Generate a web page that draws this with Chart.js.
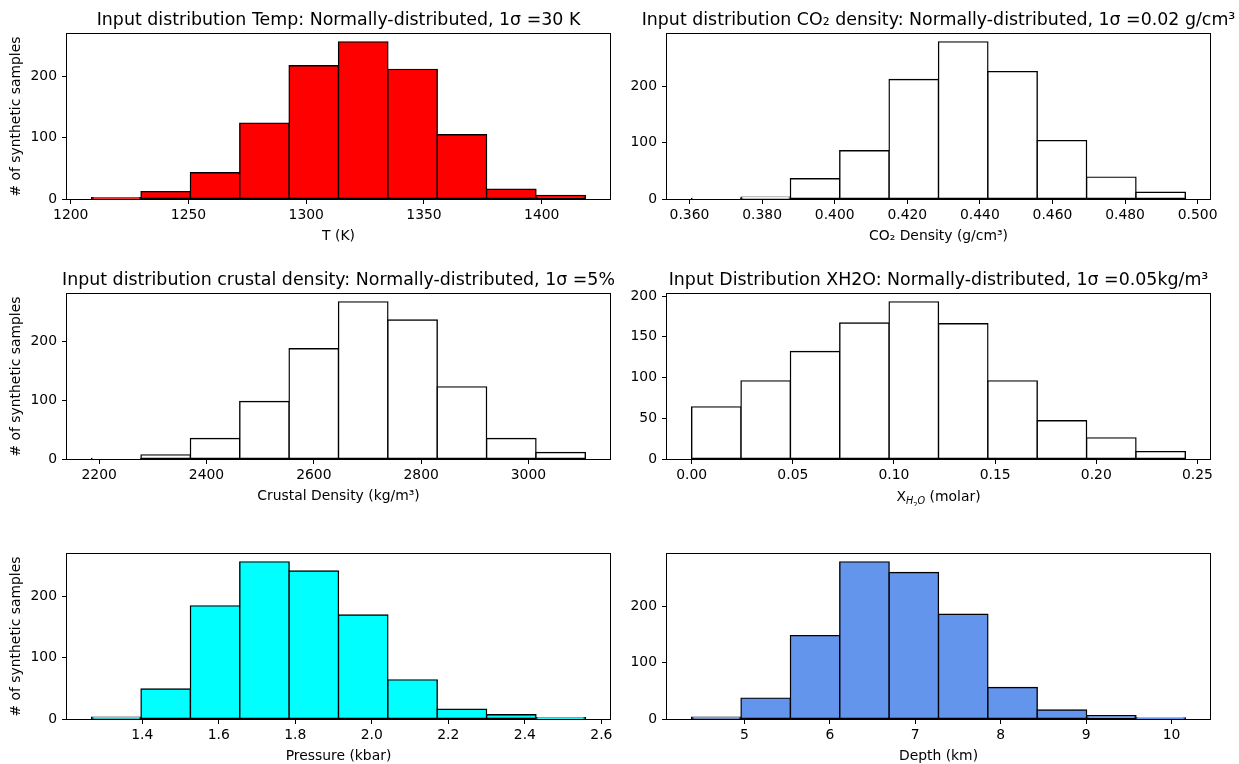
<!DOCTYPE html>
<html>
<head>
<meta charset="utf-8">
<title>Input distributions</title>
<script src="https://cdn.jsdelivr.net/npm/chart.js@4.4.1/dist/chart.umd.min.js"></script>
<style>
  html, body { margin: 0; padding: 0; background: #fff; overflow: hidden; }
  #figure { position: relative; width: 1239px; height: 764px; overflow: hidden; }
  #figure canvas { position: absolute; }
</style>
</head>
<body>
<div id="figure"></div>
<script>
// Bin centres and counts (10 bins each)
const tempBins = [1219.38, 1240.34, 1261.30, 1282.26, 1303.22, 1324.18, 1345.14, 1366.10, 1387.06, 1408.02];
const tempCounts = [2, 12, 43, 124, 218, 257, 212, 105, 16, 6];
const tempTicks = [1200, 1250, 1300, 1350, 1400];

const co2Bins = [0.3674, 0.3810, 0.3946, 0.4082, 0.4218, 0.4354, 0.4490, 0.4626, 0.4762, 0.4898];
const co2Counts = [1, 3, 36, 86, 213, 280, 227, 104, 39, 12];
const co2Ticks = [0.36, 0.38, 0.40, 0.42, 0.44, 0.46, 0.48, 0.50];

const crustBins = [2232, 2324, 2416, 2508, 2600, 2692, 2784, 2876, 2968, 3060];
const crustCounts = [1, 7, 35, 98, 188, 268, 237, 123, 35, 11];
const crustTicks = [2200, 2400, 2600, 2800, 3000];

const xh2oBins = [0.0122, 0.0366, 0.0610, 0.0854, 0.1098, 0.1342, 0.1586, 0.1830, 0.2074, 0.2318];
const xh2oCounts = [64, 96, 132, 167, 193, 166, 96, 47, 26, 9];
const xh2oTicks = [0, 0.05, 0.10, 0.15, 0.20, 0.25];

const pressBins = [1.3325, 1.4615, 1.5905, 1.7195, 1.8485, 1.9775, 2.1065, 2.2355, 2.3645, 2.4935];
const pressCounts = [3, 49, 185, 257, 242, 170, 64, 16, 7, 2];
const pressTicks = [1.4, 1.6, 1.8, 2.0, 2.2, 2.4, 2.6];

const depthBins = [4.671, 5.249, 5.827, 6.405, 6.983, 7.561, 8.139, 8.717, 9.295, 9.873];
const depthCounts = [3, 37, 148, 279, 260, 186, 56, 16, 6, 2];
const depthTicks = [5, 6, 7, 8, 9, 10];

const countTicks = [0, 100, 200];
const xh2oCountTicks = [0, 50, 100, 150, 200];

const Y_LABEL = "# of synthetic samples";

// Figure geometry (px)
const FRAME_W = 543;
const FRAME_BOTTOM = 199; // local y of the plot bottom in every canvas
const ROW_TOP = [0, 260, 520];
const COL_LEFT = [0, 620];
const COL_MARGIN = [67, 47]; // space left of the frame, mirrored on the right
const CANVAS_H = 246;
const EDGE_W = 1.4; // bar outline, centred on the bin edge like matplotlib

Chart.defaults.font.family = "'DejaVu Sans', sans-serif";
Chart.defaults.color = "#000";

const PANELS = [
  { col: 0, row: 0, color: "#ff0000", bins: tempBins, counts: tempCounts, xTicks: tempTicks, yTicks: countTicks, decimals: 0,
    title: "Input distribution Temp: Normally-distributed, 1σ =30 K", xLabel: "T (K)" },
  { col: 1, row: 0, color: "#ffffff", bins: co2Bins, counts: co2Counts, xTicks: co2Ticks, yTicks: countTicks, decimals: 3,
    title: "Input distribution CO₂ density: Normally-distributed, 1σ =0.02 g/cm³", xLabel: "CO₂ Density (g/cm³)" },
  { col: 0, row: 1, color: "#ffffff", bins: crustBins, counts: crustCounts, xTicks: crustTicks, yTicks: countTicks, decimals: 0,
    title: "Input distribution crustal density: Normally-distributed, 1σ =5%", xLabel: "Crustal Density (kg/m³)" },
  { col: 1, row: 1, color: "#ffffff", bins: xh2oBins, counts: xh2oCounts, xTicks: xh2oTicks, yTicks: xh2oCountTicks, decimals: 2,
    title: "Input Distribution XH2O: Normally-distributed, 1σ =0.05kg/m³",
    // mathtext-like X_{H_2O}: [text, size, drop, italic]
    richLabel: [["X", 13.9, 0, false], ["H", 9.7, 3, true], ["2", 6.8, 5.5, false], ["O", 9.7, 3, true], [" (molar)", 13.9, 0, false]] },
  { col: 0, row: 2, color: "#00ffff", bins: pressBins, counts: pressCounts, xTicks: pressTicks, yTicks: countTicks, decimals: 1,
    title: null, xLabel: "Pressure (kbar)" },
  { col: 1, row: 2, color: "#6495ed", bins: depthBins, counts: depthCounts, xTicks: depthTicks, yTicks: countTicks, decimals: 0,
    title: null, xLabel: "Depth (km)" },
];

// Box round the plot area, drawn over the bars like matplotlib spines
const framePlugin = {
  id: "frame",
  afterDatasetsDraw(chart) {
    const { ctx, chartArea: a } = chart;
    ctx.save();
    ctx.strokeStyle = "#000";
    ctx.lineWidth = 1;
    ctx.strokeRect(Math.round(a.left) - 0.5, Math.round(a.top) - 0.5,
      Math.round(a.right - a.left) + 1, Math.round(a.bottom - a.top) + 1);
    ctx.restore();
  },
};

// Axis label with sub/superscript pieces (used for X_H2O)
const richLabelPlugin = {
  id: "richLabel",
  afterDraw(chart, args, opts) {
    if (!opts.parts) return;
    const { ctx, chartArea: a } = chart;
    const fontOf = (p) => `${p[3] ? "italic " : ""}${p[1]}px 'DejaVu Sans', sans-serif`;
    ctx.save();
    let total = 0;
    opts.parts.forEach((p) => { ctx.font = fontOf(p); total += ctx.measureText(p[0]).width; });
    let x = (a.left + a.right) / 2 - total / 2;
    const base = a.bottom + 42;
    ctx.fillStyle = "#000";
    ctx.textBaseline = "alphabetic";
    ctx.textAlign = "left";
    opts.parts.forEach((p) => {
      ctx.font = fontOf(p);
      ctx.fillText(p[0], x, base + p[2]);
      x += ctx.measureText(p[0]).width;
    });
    ctx.restore();
  },
};

function makeChart(p) {
  const margin = COL_MARGIN[p.col];
  const canvas = document.createElement("canvas");
  canvas.width = margin * 2 + FRAME_W;
  canvas.height = CANVAS_H;
  canvas.style.left = COL_LEFT[p.col] + "px";
  canvas.style.top = ROW_TOP[p.row] + "px";
  document.getElementById("figure").appendChild(canvas);

  // matplotlib-style limits: 5% margin on x, 0..max+5% on y
  const w = p.bins[1] - p.bins[0];
  const lo = p.bins[0] - w / 2;
  const hi = p.bins[p.bins.length - 1] + w / 2;
  const pad = (hi - lo) * 0.05;
  const yMax = Math.max(...p.counts) * 1.05;

  const tickGrid = { display: true, drawOnChartArea: false, drawTicks: true, tickLength: 5, tickColor: "#000", tickWidth: 1, offset: false };

  return new Chart(canvas, {
    type: "bar",
    data: {
      datasets: [{
        data: p.bins.map((x, i) => ({ x, y: p.counts[i] })),
        xAxisID: "x",
        yAxisID: "y",
        backgroundColor: p.color,
        borderColor: "#000",
        borderWidth: EDGE_W,
        inflateAmount: EDGE_W / 2,
        borderSkipped: false,
        barPercentage: 1,
        categoryPercentage: 1,
      }],
    },
    options: {
      responsive: false,
      animation: false,
      devicePixelRatio: 1,
      layout: { padding: { top: p.title ? 0 : 34 } },
      plugins: {
        legend: { display: false },
        tooltip: { enabled: false },
        title: {
          display: !!p.title,
          text: p.title || "",
          color: "#000",
          font: { size: 17.4, weight: "normal" },
          padding: { top: 10, bottom: 3.1 },
        },
        richLabel: { parts: p.richLabel || null },
      },
      scales: {
        x: {
          type: "linear",
          min: lo - pad,
          max: hi + pad,
          offset: false,
          grid: tickGrid,
          border: { display: false },
          ticks: { font: { size: 13.9 }, padding: 3, autoSkip: false, maxRotation: 0,
            callback: (v) => v.toFixed(p.decimals) },
          title: { display: !p.richLabel, text: p.xLabel || "", font: { size: 13.9 }, padding: { top: 0, bottom: 1.7 } },
          afterBuildTicks: (s) => { s.ticks = p.xTicks.map((value) => ({ value })); },
          afterFit: (s) => { s.height = CANVAS_H - FRAME_BOTTOM; },
        },
        y: {
          type: "linear",
          position: "left",
          min: 0,
          max: yMax,
          grid: tickGrid,
          border: { display: false },
          ticks: { font: { size: 13.9 }, padding: 5, callback: (v) => v.toFixed(0) },
          title: { display: p.col === 0, text: Y_LABEL, font: { size: 13.9 }, padding: { top: 8.2, bottom: 0 } },
          afterBuildTicks: (s) => { s.ticks = p.yTicks.map((value) => ({ value })); },
          afterFit: (s) => { s.width = margin; },
        },
        // empty axis on the right so the frame sits centred under the title
        gutter: {
          type: "linear",
          position: "right",
          display: true,
          grid: { display: false },
          border: { display: false },
          ticks: { display: false },
          afterFit: (s) => { s.width = margin; },
        },
      },
    },
    plugins: [framePlugin, richLabelPlugin],
  });
}

PANELS.forEach(makeChart);
</script>
</body>
</html>
